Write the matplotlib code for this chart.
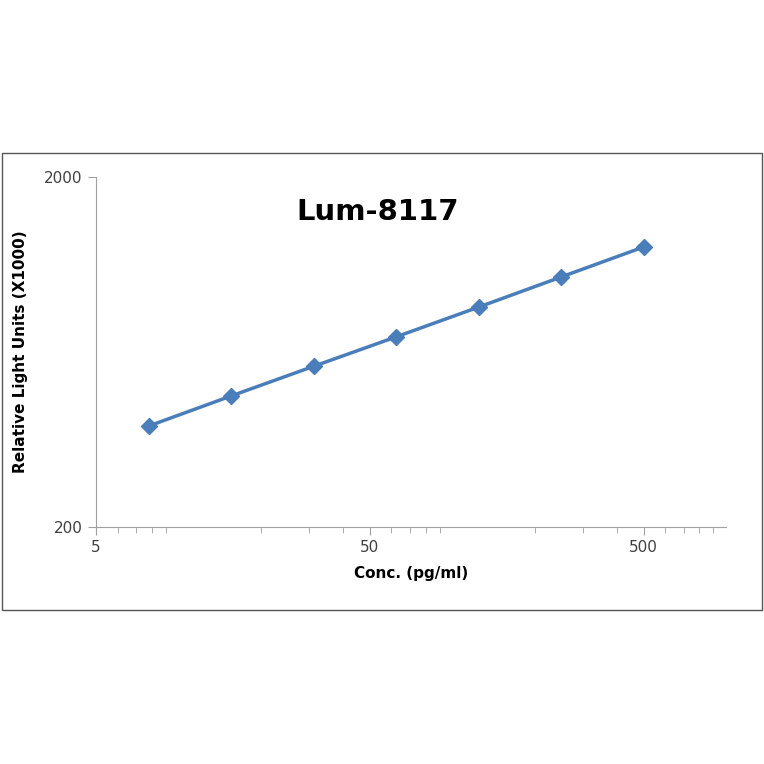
import matplotlib
matplotlib.use("Agg")
import matplotlib.pyplot as plt
from matplotlib.patches import Rectangle
from matplotlib.ticker import FixedLocator, NullFormatter, LogLocator

conc = [7.8125, 15.625, 31.25, 62.5, 125, 250, 500]
rlu = [389, 474, 576, 699, 850, 1036, 1262]
xticks = [5, 50, 500]
yticks = [200, 2000]

fig = plt.figure(figsize=(7.64, 7.64), dpi=100)
fig.patches.append(Rectangle((2/764, 1-610/764), 760/764, 457/764, transform=fig.transFigure,
                             fill=False, edgecolor="#555555", lw=1))
ax = fig.add_axes([96/764, 1-527/764, 630/764, 350/764])
ax.set_xscale("log"); ax.set_yscale("log")
ax.set_xlim(5, 1000); ax.set_ylim(200, 2000)
ax.plot(conc, rlu, color="#4a7ebb", lw=2.5, marker="D", ms=8, mfc="#4a7ebb", mec="#4a7ebb")
for s in ["top", "right"]:
    ax.spines[s].set_visible(False)
for s in ["left", "bottom"]:
    ax.spines[s].set_color("#a0a0a0")
ax.xaxis.set_major_locator(FixedLocator(xticks))
ax.yaxis.set_major_locator(FixedLocator(yticks))
ax.set_xticklabels([str(v) for v in xticks])
ax.set_yticklabels([str(v) for v in yticks])
ax.xaxis.set_minor_locator(LogLocator(base=10, subs=range(2, 10)))
ax.xaxis.set_minor_formatter(NullFormatter())
ax.yaxis.set_minor_locator(FixedLocator([]))
ax.tick_params(which="both", direction="out", color="#a0a0a0", labelcolor="#404040", labelsize=11)
ax.tick_params(which="major", length=6)
ax.tick_params(which="minor", length=4)
ax.set_xlabel("Conc. (pg/ml)", fontsize=11, fontweight="bold", labelpad=8)
ax.set_ylabel("Relative Light Units (X1000)", fontsize=11, fontweight="bold", labelpad=12)
ax.text(0.447, 0.90, "Lum-8117", transform=ax.transAxes, ha="center", va="center",
        fontsize=21, fontweight="bold")
fig.savefig("out.png", dpi=100)
